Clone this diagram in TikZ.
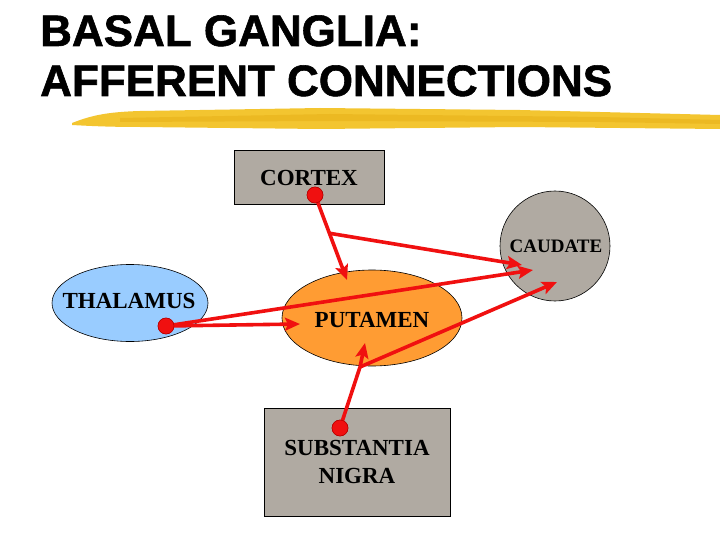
\documentclass[tikz,border=0pt]{standalone}
\usepackage{fontspec}
\setmainfont{Liberation Serif}
\newfontfamily\titlefont[UprightFont=* Bold, FakeBold=1.3]{Liberation Sans}
\usetikzlibrary{shapes.geometric,arrows.meta,calc}
\definecolor{boxgray}{HTML}{B0AAA2}
\definecolor{thalblue}{HTML}{99CCFF}
\definecolor{putorange}{HTML}{FF9C33}
\definecolor{linered}{HTML}{F01010}
\definecolor{brushA}{HTML}{F3C530}
\definecolor{brushB}{HTML}{E8B21A}
\tikzset{
  lbl/.style={inner sep=0pt, align=center, font=\bfseries\fontsize{23}{28}\selectfont},
  box/.style={draw=black, line width=0.8pt, fill=boxgray, inner sep=0pt},
  oval/.style={draw=black, line width=0.6pt, ellipse, inner sep=0pt},
  reddot/.style={circle, fill=linered, draw=red!70!black, line width=0.5pt, minimum size=16pt, inner sep=0pt},
  conn/.style={draw=linered, line width=3.6pt},
  arr/.style={conn, -{Stealth[length=15pt,width=13pt,inset=3pt]}},
  titletext/.style={anchor=base west, inner sep=0pt, font=\titlefont\fontsize{44}{48}\selectfont}
}
\begin{document}
\begin{tikzpicture}[x=1pt,y=-1pt]
\useasboundingbox (0,0) rectangle (720,540);
\fill[white] (0,0) rectangle (720,540);
% title
\node[titletext] (t1) at (40,46) {BASAL GANGLIA:};
\node[titletext] (t2) at (40,96) {AFFERENT CONNECTIONS};
% brush stroke
\fill[brushA] (72,123) .. controls (90,116) and (105,112) .. (140,111)
  -- (320,108) -- (520,110) -- (720,115) -- (720,129) -- (520,127) -- (320,129)
  -- (140,127) .. controls (110,127) and (90,126) .. (72,125) -- cycle;
\fill[brushB, opacity=0.6] (120,118) -- (330,114) -- (600,117) -- (720,120) -- (720,124) -- (600,122) -- (330,121) -- (120,122) -- cycle;
% shapes
\node[box, minimum width=150pt, minimum height=54pt] (cortex) at (309,177) {};
\node[draw=black, line width=0.6pt, circle, fill=boxgray, minimum size=110pt, inner sep=0pt] (caudate) at (555,246) {};
\node[oval, fill=thalblue, minimum width=156pt, minimum height=77pt] (thal) at (130,303) {};
\node[oval, fill=putorange, minimum width=180pt, minimum height=96pt] (put) at (372,318) {};
\node[box, minimum width=186pt, minimum height=108pt] (sn) at (357,462) {};
% labels
\node[lbl] (cortexl) at (309,178) {CORTEX};
\node[lbl, font=\bfseries\fontsize{19}{22}\selectfont] (caudatel) at (556,246) {CAUDATE};
\node[lbl] (thall) at (129,301) {THALAMUS};
\node[lbl] (putl) at (372,320) {PUTAMEN};
\node[lbl] (snl) at (357,462) {SUBSTANTIA\\NIGRA};
% dots and tips
\coordinate (ctip) at (347,280);
\coordinate (cctip) at (522,265);
\coordinate (tptip) at (300,324);
\coordinate (tctip) at (533,270);
\coordinate (sbr) at (360,367);
\coordinate (sptip) at (365,343);
\coordinate (sctip) at (557,282);
\node[reddot] (cdot) at (315,195) {};
\node[reddot] (tdot) at (166,326) {};
\node[reddot] (sdot) at (340,428) {};
\coordinate (cbr) at ($(cdot.center)!0.45!(ctip)$);
% connectors
\draw[arr] (cdot.center) -- (ctip);
\draw[arr] (cbr) -- (cctip);
\draw[arr] (tdot.center) -- (tptip);
\draw[arr] (tdot.center) -- (tctip);
\draw[conn] (sdot.center) -- (sbr);
\draw[arr] (sbr) -- (sptip);
\draw[arr] (sbr) -- (sctip);
% redraw dots on top
\node[reddot] at (cdot) {};
\node[reddot] at (tdot) {};
\node[reddot] at (sdot) {};
\end{tikzpicture}
\end{document}
